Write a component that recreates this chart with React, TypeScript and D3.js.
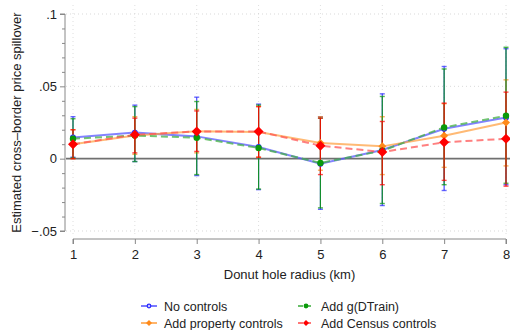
import { useEffect, useRef } from 'react';
import * as d3 from 'd3';

const radii = [1, 2, 3, 4, 5, 6, 7, 8];
const yTicks = [-0.05, 0, 0.05, 0.1];
const yTickLabels = ['−.05', '0', '.05', '.1'];

const seriesNames = ['No controls', 'Add property controls', 'Add g(DTrain)', 'Add Census controls'];

const noControlsEst = [0.0147, 0.018, 0.0154, 0.008, -0.0035, 0.006, 0.0207, 0.0285];
const noControlsLo = [0.001, -0.002, -0.0117, -0.0214, -0.035, -0.0324, -0.022, -0.018];
const noControlsHi = [0.029, 0.037, 0.0425, 0.0377, 0.029, 0.0448, 0.0637, 0.076];

const propertyEst = [0.01, 0.016, 0.019, 0.0185, 0.0108, 0.0085, 0.0159, 0.025];
const propertyLo = [0.0, 0.003, 0.004, 0.001, -0.008, -0.011, -0.006, -0.005];
const propertyHi = [0.02, 0.029, 0.034, 0.036, 0.029, 0.029, 0.038, 0.0545];

const dtrainEst = [0.0138, 0.016, 0.0145, 0.0074, -0.003, 0.0055, 0.0216, 0.0297];
const dtrainLo = [0.0005, -0.002, -0.011, -0.021, -0.034, -0.031, -0.018, -0.017];
const dtrainHi = [0.0276, 0.036, 0.0395, 0.037, 0.028, 0.043, 0.062, 0.077];

const censusEst = [0.01, 0.0165, 0.0188, 0.0188, 0.009, 0.0046, 0.0113, 0.0138];
const censusLo = [0.0, 0.004, 0.005, 0.001, -0.011, -0.018, -0.015, -0.019];
const censusHi = [0.02, 0.028, 0.033, 0.036, 0.028, 0.0257, 0.0384, 0.046];

interface Series {
  name: string;
  est: number[];
  lo: number[];
  hi: number[];
  color: string;
  lineColor: string;
  dash: string | null;
  marker: 'circleHollow' | 'circle' | 'diamond' | 'bigDiamond';
}

const series: Series[] = [
  { name: seriesNames[0], est: noControlsEst, lo: noControlsLo, hi: noControlsHi, color: '#2a2aff', lineColor: '#5a5aff', dash: null, marker: 'circleHollow' },
  { name: seriesNames[1], est: propertyEst, lo: propertyLo, hi: propertyHi, color: '#ff8a1a', lineColor: '#ffa347', dash: null, marker: 'diamond' },
  { name: seriesNames[2], est: dtrainEst, lo: dtrainLo, hi: dtrainHi, color: '#0a9a0a', lineColor: '#44b044', dash: '7,4', marker: 'circle' },
  { name: seriesNames[3], est: censusEst, lo: censusLo, hi: censusHi, color: '#ff0000', lineColor: '#ff5555', dash: '7,4', marker: 'bigDiamond' },
];

const FONT = '"Liberation Sans", Arial, sans-serif';

function drawMarker(g: d3.Selection<SVGGElement, unknown, null, undefined>, kind: Series['marker'], x: number, y: number, color: string, scale = 1) {
  if (kind === 'circleHollow') {
    g.append('circle').attr('cx', x).attr('cy', y).attr('r', 2.4 * scale).attr('fill', '#c8c8ff').attr('stroke', color).attr('stroke-width', 1.2);
  } else if (kind === 'circle') {
    g.append('circle').attr('cx', x).attr('cy', y).attr('r', 3.2 * scale).attr('fill', color);
  } else {
    const s = (kind === 'bigDiamond' ? 5 : 4) * scale;
    g.append('path')
      .attr('d', `M${x},${y - s}L${x + s},${y}L${x},${y + s}L${x - s},${y}Z`)
      .attr('fill', color);
  }
}

export default function App() {
  const svgRef = useRef<SVGSVGElement>(null);

  useEffect(() => {
    document.body.style.margin = '0';
    if (!svgRef.current) return;
    const svg = d3.select(svgRef.current);
    svg.selectAll('*').remove();

    const xScale = d3.scaleLinear().domain([1, 8]).range([73, 506]);
    const yScale = d3.scaleLinear().domain([-0.05, 0.1]).range([231, 14]);

    const root = svg.append('g');

    // grid lines
    root.selectAll('line.vgrid')
      .data(radii)
      .enter()
      .append('line')
      .attr('x1', (d) => xScale(d))
      .attr('x2', (d) => xScale(d))
      .attr('y1', 5)
      .attr('y2', 236)
      .attr('stroke', '#d6d6d6')
      .attr('stroke-width', 0.8)
      .attr('stroke-dasharray', '1,3');

    root.selectAll('line.hgrid')
      .data(yTicks.filter((t) => t !== 0))
      .enter()
      .append('line')
      .attr('x1', 66)
      .attr('x2', 510)
      .attr('y1', (d) => yScale(d))
      .attr('y2', (d) => yScale(d))
      .attr('stroke', '#cfcfcf')
      .attr('stroke-width', 0.8)
      .attr('stroke-dasharray', '1,3');

    // zero line
    root.append('line')
      .attr('x1', 66)
      .attr('x2', 510)
      .attr('y1', yScale(0))
      .attr('y2', yScale(0))
      .attr('stroke', '#707070')
      .attr('stroke-width', 1.6);

    // y axis
    const yAxis = d3.axisLeft(yScale)
      .tickValues(d3.range(-0.05, 0.1001, 0.01))
      .tickSize(3)
      .tickFormat(() => '');
    const yg = root.append('g').attr('transform', 'translate(65,0)').call(yAxis);
    yg.selectAll('path, line').attr('stroke', '#888').attr('stroke-width', 1);
    yg.select('.domain').attr('d', `M-5,${yScale(-0.05)}H0V${yScale(0.1)}H-5`);
    yg.selectAll('.tick line').attr('x2', (d: any) => (yTicks.some((t) => Math.abs(t - d) < 1e-6) ? -5 : -3));

    root.selectAll('text.ylab')
      .data(yTicks)
      .enter()
      .append('text')
      .attr('x', 57)
      .attr('y', (d) => yScale(d) + 4.5)
      .attr('text-anchor', 'end')
      .attr('font-family', FONT)
      .attr('font-size', 13)
      .attr('fill', '#222')
      .text((_, i) => yTickLabels[i]);

    // x axis
    const xAxis = d3.axisBottom(xScale).tickValues(radii).tickSize(5).tickFormat((d) => String(d));
    const xg = root.append('g').attr('transform', 'translate(0,239)').call(xAxis);
    xg.selectAll('path, line').attr('stroke', '#888').attr('stroke-width', 1);
    xg.select('.domain').attr('d', `M${xScale(1)},5V0H${xScale(8)}V5`);
    xg.selectAll('text').attr('font-family', FONT).attr('font-size', 13).attr('fill', '#222').attr('dy', '0.95em');

    // axis titles
    root.append('text')
      .attr('transform', `translate(21,${yScale(0.025)}) rotate(-90)`)
      .attr('text-anchor', 'middle')
      .attr('font-family', FONT)
      .attr('font-size', 13)
      .attr('fill', '#222')
      .text('Estimated cross–border price spillover');

    root.append('text')
      .attr('x', (xScale(1) + xScale(8)) / 2)
      .attr('y', 279)
      .attr('text-anchor', 'middle')
      .attr('font-family', FONT)
      .attr('font-size', 13)
      .attr('fill', '#222')
      .text('Donut hole radius (km)');

    // error bars
    series.forEach((s) => {
      const eg = root.append('g');
      radii.forEach((r, i) => {
        const x = xScale(r);
        eg.append('line').attr('x1', x).attr('x2', x).attr('y1', yScale(s.lo[i])).attr('y2', yScale(s.hi[i]))
          .attr('stroke', s.color).attr('stroke-width', 1.2).attr('opacity', 0.85);
        [s.lo[i], s.hi[i]].forEach((v) => {
          eg.append('line').attr('x1', x - 2.5).attr('x2', x + 2.5).attr('y1', yScale(v)).attr('y2', yScale(v))
            .attr('stroke', s.color).attr('stroke-width', 1.4).attr('opacity', 0.7);
        });
      });
    });

    // connecting lines
    const line = d3.line<number>().x((_, i) => xScale(radii[i])).y((d) => yScale(d));
    series.forEach((s) => {
      root.append('path')
        .attr('d', line(s.est) || '')
        .attr('fill', 'none')
        .attr('stroke', s.lineColor)
        .attr('stroke-width', 2)
        .attr('opacity', 0.75)
        .attr('stroke-dasharray', s.dash ?? null);
    });

    // markers
    series.forEach((s) => {
      const mg = root.append('g');
      radii.forEach((r, i) => drawMarker(mg, s.marker, xScale(r), yScale(s.est[i]), s.color));
    });

    // legend
    const legendPos = [
      { x: 141, y: 306 },
      { x: 141, y: 323 },
      { x: 298, y: 306 },
      { x: 298, y: 323 },
    ];
    series.forEach((s, i) => {
      const p = legendPos[i];
      const lg = root.append('g');
      lg.append('line').attr('x1', p.x).attr('x2', p.x + 16).attr('y1', p.y).attr('y2', p.y)
        .attr('stroke', s.lineColor).attr('stroke-width', 2).attr('opacity', 0.8)
        .attr('stroke-dasharray', s.dash ? '5,3' : null);
      drawMarker(lg, s.marker === 'bigDiamond' ? 'diamond' : s.marker, p.x + 8, p.y, s.color, 0.75);
      lg.append('text').attr('x', p.x + 23).attr('y', p.y + 4.5)
        .attr('font-family', FONT).attr('font-size', 12.5).attr('fill', '#222').text(s.name);
    });
  }, []);

  return <svg ref={svgRef} width={510} height={330} style={{ display: 'block', background: '#fff' }} />;
}
